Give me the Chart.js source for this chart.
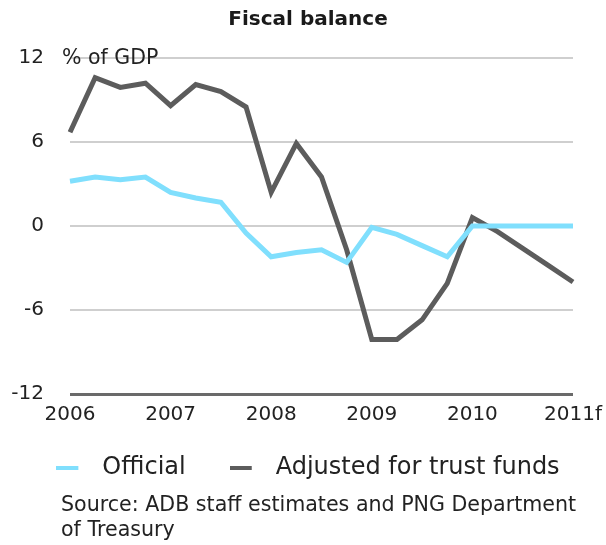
<!DOCTYPE html>
<html>
<head>
<meta charset="utf-8">
<script src="https://cdn.jsdelivr.net/npm/chart.js@4.4.1/dist/chart.umd.min.js"></script>
<style>
  html, body { margin: 0; padding: 0; background: #fff; }
  #wrap { position: relative; width: 606px; height: 545px; }
  #source {
    position: absolute; left: 61px; top: 492px;
    font: 20.6px "DejaVu Sans", sans-serif; line-height: 25px;
    color: #222; white-space: nowrap;
  }
</style>
</head>
<body>
<div id="wrap">
  <canvas id="chart-fiscal" width="606" height="545"></canvas>
  <div id="source">Source: ADB staff estimates and PNG Department<br>of Treasury</div>
</div>
<script>
const quarters = ['2006', '2006Q2', '2006Q3', '2006Q4', '2007', '2007Q2', '2007Q3', '2007Q4',
  '2008', '2008Q2', '2008Q3', '2008Q4', '2009', '2009Q2', '2009Q3', '2009Q4',
  '2010', '2010Q2', '2010Q3', '2010Q4', '2011f'];
const yearTicks = ['2006', '2007', '2008', '2009', '2010', '2011f'];
const official = [3.2, 3.5, 3.3, 3.5, 2.4, 2.0, 1.7, -0.5, -2.2, -1.9, -1.7, -2.6,
  -0.1, -0.6, -1.4, -2.2, 0, 0, 0, 0, 0];
const adjusted = [6.7, 10.6, 9.9, 10.2, 8.6, 10.1, 9.6, 8.5, 2.4, 5.9, 3.5, -1.7,
  -8.1, -8.1, -6.7, -4.1, 0.6, -0.4, -1.6, -2.8, -4.0];
const yTicks = [-12, -6, 0, 6, 12];

const FONT = '"DejaVu Sans", sans-serif';

// legend sample: short line at the left of a wider transparent box
function legendLine(color) {
  const c = document.createElement('canvas');
  c.width = 34; c.height = 4;
  const g = c.getContext('2d');
  g.fillStyle = color;
  g.fillRect(0, 0, 22, 4);
  return c;
}

const unitLabel = {
  id: 'unitLabel',
  afterDraw(chart) {
    const { ctx, chartArea, scales } = chart;
    ctx.save();
    ctx.font = '20.5px ' + FONT;
    ctx.fillStyle = '#222';
    ctx.textBaseline = 'middle';
    ctx.fillText('% of GDP', chartArea.left - 8, scales.y.getPixelForValue(12) + 1);
    ctx.restore();
  }
};

const ctxFiscal = document.getElementById('chart-fiscal').getContext('2d');
new Chart(ctxFiscal, {
  type: 'line',
  data: {
    labels: quarters,
    datasets: [{
      label: 'Official',
      data: official,
      borderColor: '#80dffd',
      backgroundColor: '#80dffd',
      borderWidth: 5,
      pointRadius: 0,
      tension: 0,
      pointStyle: legendLine('#80dffd')
    }, {
      label: 'Adjusted for trust funds',
      data: adjusted,
      borderColor: '#5c5c5c',
      backgroundColor: '#5c5c5c',
      borderWidth: 5,
      pointRadius: 0,
      tension: 0,
      pointStyle: legendLine('#5c5c5c')
    }]
  },
  options: {
    responsive: false,
    animation: false,
    layout: { padding: { left: 10, right: 0, top: 0, bottom: 55 } },
    plugins: {
      title: {
        display: true,
        text: 'Fiscal balance',
        color: '#1a1a1a',
        font: { family: FONT, size: 20, weight: 'bold' },
        padding: { top: 8, bottom: 26 }
      },
      legend: {
        position: 'bottom',
        labels: {
          usePointStyle: true,
          pointStyleWidth: 34,
          color: '#222',
          font: { family: FONT, size: 24 },
          padding: 44
        }
      },
      tooltip: { enabled: false }
    },
    scales: {
      x: {
        afterFit: s => { s.height = 18; },
        grid: { display: false, drawTicks: false },
        border: { display: false },
        ticks: {
          // mirrored labels are not clipped to the short axis box; negative padding puts them below the axis
          mirror: true,
          autoSkip: false,
          maxRotation: 0,
          padding: -33,
          color: '#222',
          font: { family: FONT, size: 20 },
          callback: (v, i) => (i % 4 === 0 ? yearTicks[i / 4] : '')
        }
      },
      y: {
        min: yTicks[0],
        max: yTicks[yTicks.length - 1],
        afterBuildTicks: s => { s.ticks = yTicks.map(v => ({ value: v })); },
        afterFit: s => { s.width = 60; },
        border: { display: false },
        grid: {
          drawTicks: false,
          color: c => (c.tick.value === -12 ? '#6a6a6a' : '#cfcfcf'),
          lineWidth: c => (c.tick.value === -12 ? 3 : 2)
        },
        ticks: {
          padding: 26,
          color: '#222',
          font: { family: FONT, size: 20 }
        }
      },
      // empty right margin so the plot ends where the original does
      yRight: {
        position: 'right',
        afterFit: s => { s.width = 33; },
        grid: { display: false, drawTicks: false },
        border: { display: false },
        ticks: { display: false }
      }
    }
  },
  plugins: [unitLabel]
});
</script>
</body>
</html>
